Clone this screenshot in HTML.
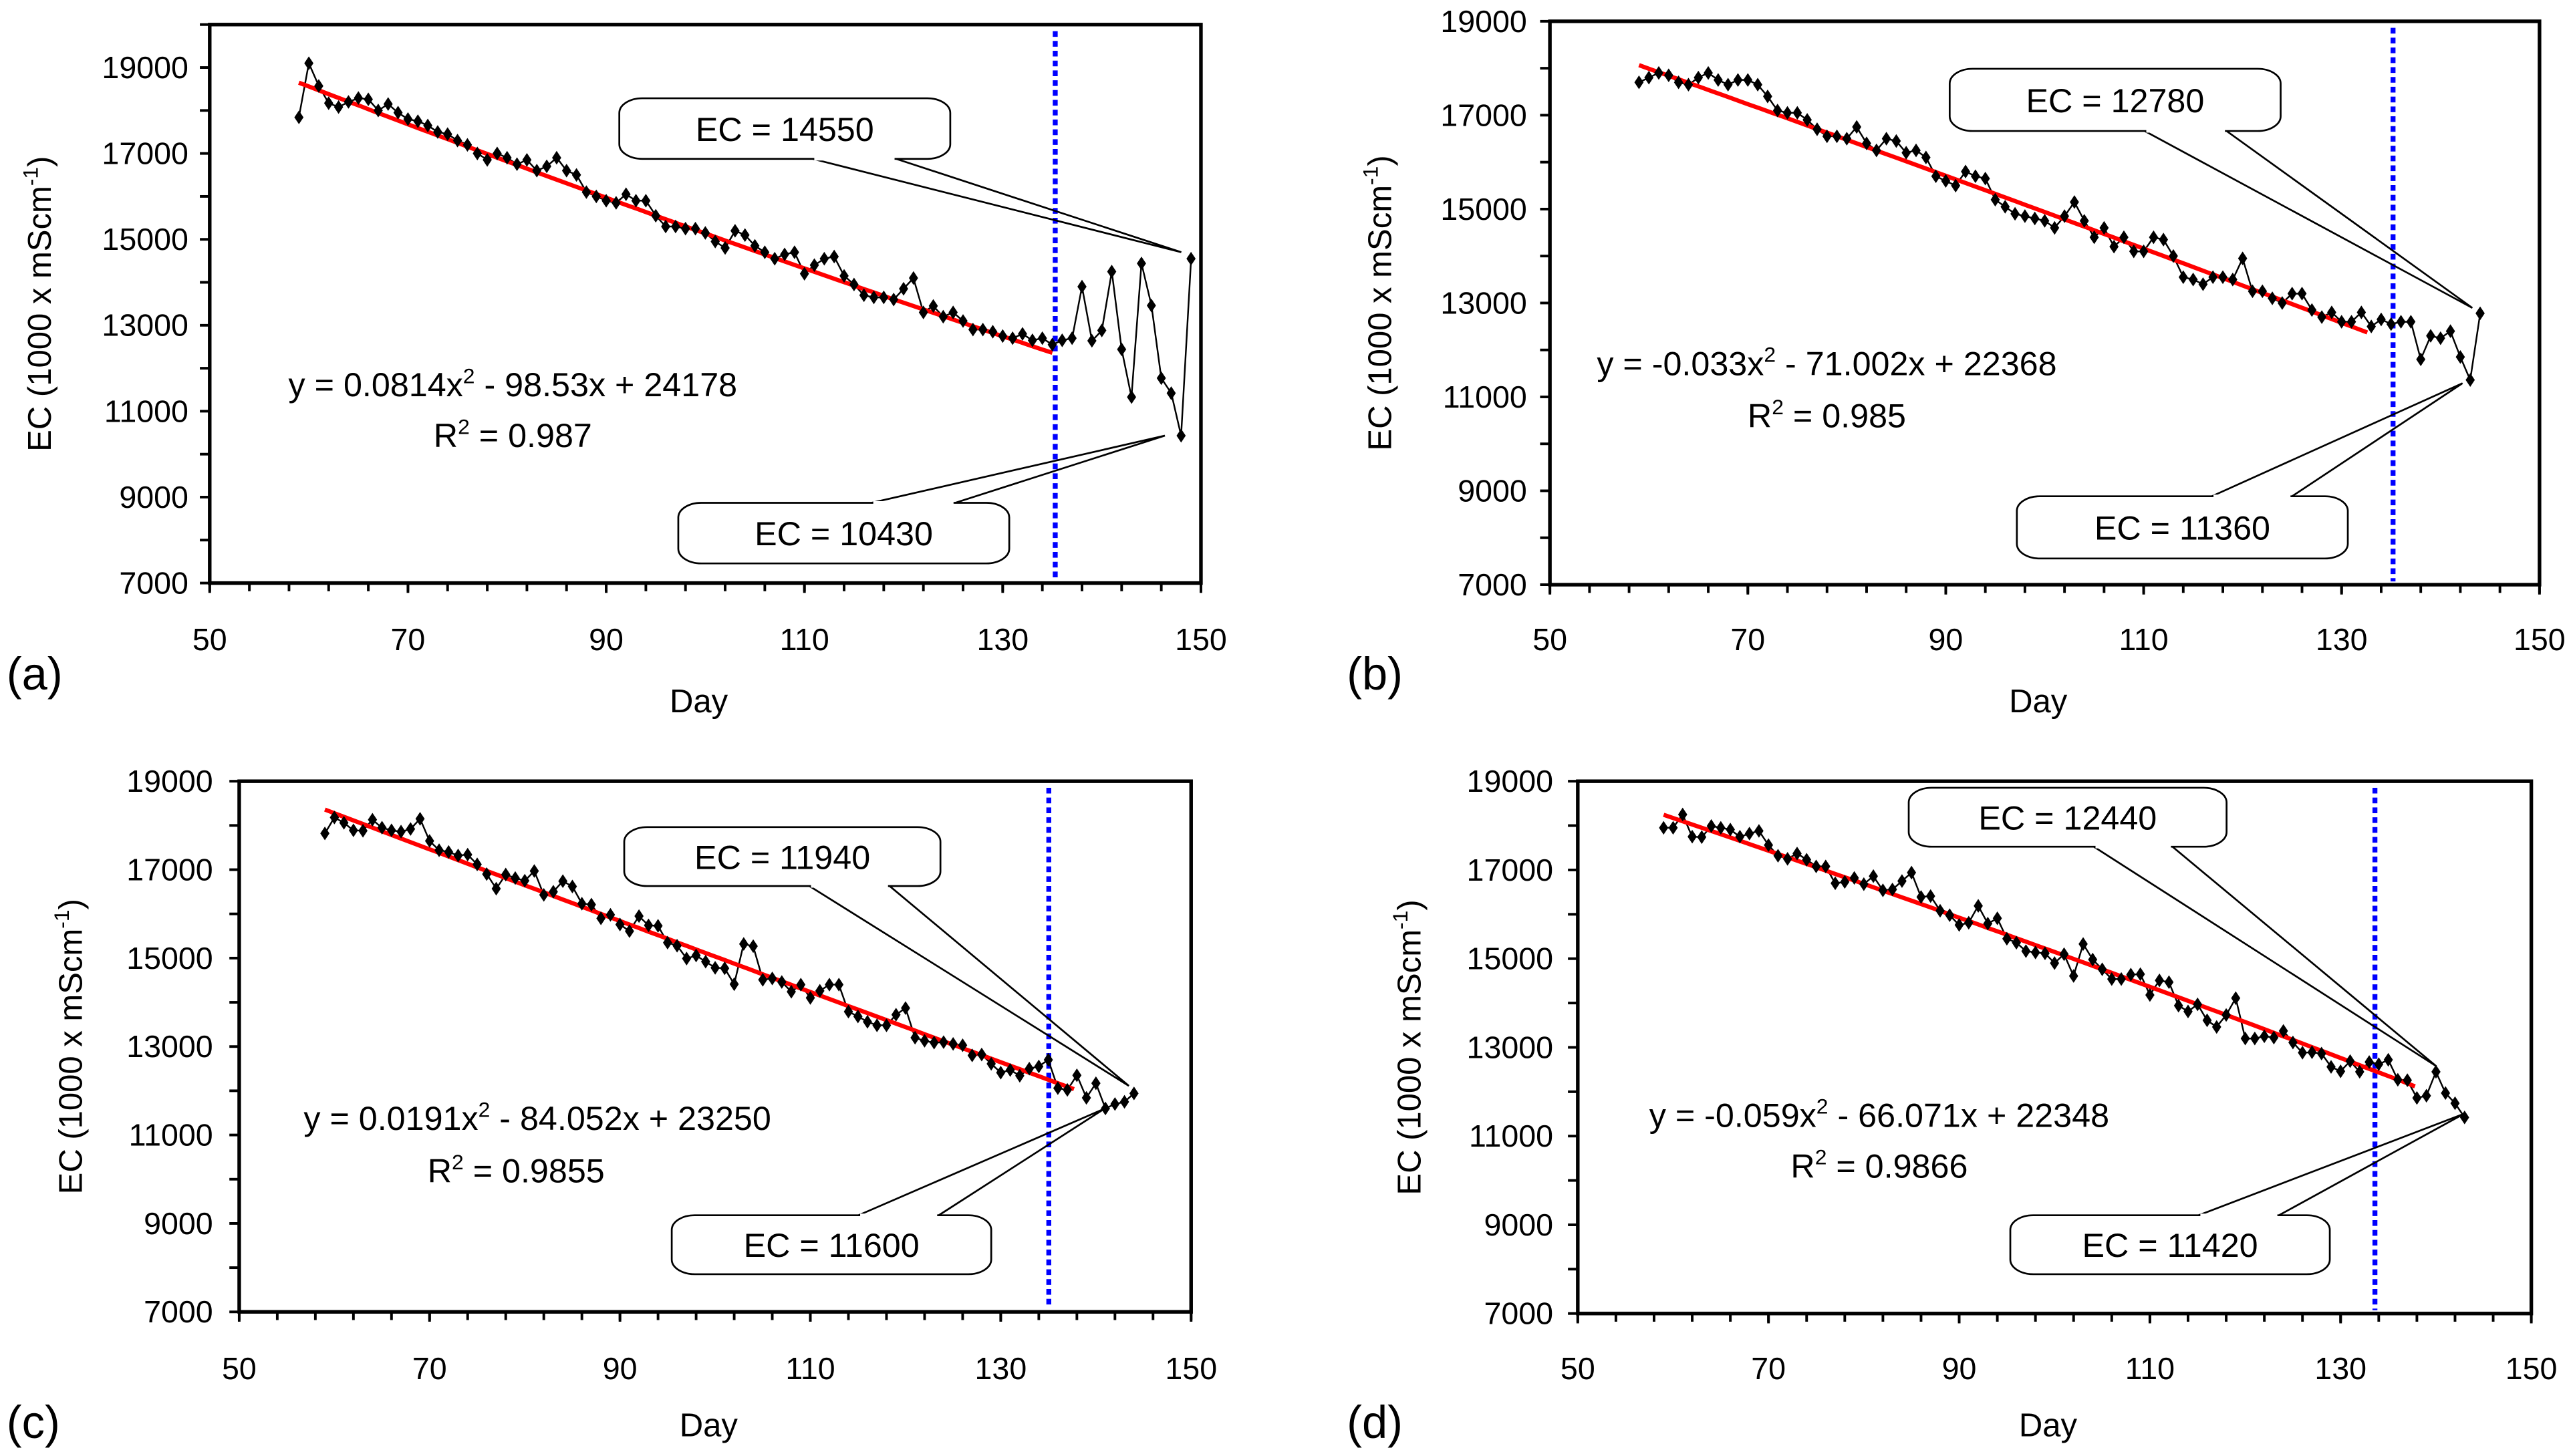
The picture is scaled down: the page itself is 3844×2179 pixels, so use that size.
<!DOCTYPE html>
<html><head><meta charset="utf-8"><style>
html,body{margin:0;padding:0;background:#fff}
svg{display:block}
text{font-family:"Liberation Sans",Arial,sans-serif;fill:#000}
</style></head><body>
<svg id="fig" xmlns="http://www.w3.org/2000/svg" width="3844" height="2179" viewBox="0 0 1568 889" preserveAspectRatio="none">
<rect width="1568" height="889" fill="#fff"/>
</svg>
<script>
// ---- data ----
const daysA = [59,60,61,62,63,64,65,66,67,68,69,70,71,72,73,74,75,76,77,78,79,80,81,82,83,84,85,86,87,88,89,90,91,92,93,94,95,96,97,98,99,100,101,102,103,104,105,106,107,108,109,110,111,112,113,114,115,116,117,118,119,120,121,122,123,124,125,126,127,128,129,130,131,132,133,134,135,136,137,138,139,140,141,142,143,144,145,146,147,148,149];
const ecA = [17840,19100,18570,18170,18080,18200,18290,18260,18000,18150,17950,17800,17750,17650,17500,17450,17300,17200,17000,16850,17000,16900,16750,16850,16600,16700,16900,16600,16500,16100,16000,15900,15850,16050,15900,15900,15550,15300,15300,15250,15250,15150,14950,14800,15200,15100,14850,14700,14550,14650,14700,14200,14400,14550,14600,14150,13950,13700,13650,13650,13600,13850,14100,13300,13450,13200,13300,13100,12900,12900,12850,12750,12700,12800,12650,12700,12550,12650,12700,13900,12640,12880,14250,12440,11330,14440,13460,11770,11420,10430,14550];
const daysB = [59,60,61,62,63,64,65,66,67,68,69,70,71,72,73,74,75,76,77,78,79,80,81,82,83,84,85,86,87,88,89,90,91,92,93,94,95,96,97,98,99,100,101,102,103,104,105,106,107,108,109,110,111,112,113,114,115,116,117,118,119,120,121,122,123,124,125,126,127,128,129,130,131,132,133,134,135,136,137,138,139,140,141,142,143,144];
const ecB = [17700,17800,17900,17850,17700,17650,17800,17900,17750,17650,17750,17750,17650,17400,17100,17050,17050,16900,16700,16550,16550,16500,16750,16400,16250,16500,16450,16200,16250,16100,15700,15600,15500,15800,15700,15650,15200,15050,14900,14850,14800,14750,14600,14850,15150,14750,14400,14600,14200,14400,14100,14100,14400,14350,14000,13550,13500,13400,13550,13550,13500,13950,13250,13250,13100,13000,13200,13200,12850,12700,12800,12600,12600,12800,12500,12650,12550,12600,12600,11800,12300,12250,12400,11850,11360,12780];
const daysC = [59,60,61,62,63,64,65,66,67,68,69,70,71,72,73,74,75,76,77,78,79,80,81,82,83,84,85,86,87,88,89,90,91,92,93,94,95,96,97,98,99,100,101,102,103,104,105,106,107,108,109,110,111,112,113,114,115,116,117,118,119,120,121,122,123,124,125,126,127,128,129,130,131,132,133,134,135,136,137,138,139,140,141,142,143,144];
const ecC = [17820,18180,18060,17890,17880,18130,17950,17890,17860,17920,18150,17650,17440,17400,17320,17340,17120,16900,16570,16890,16810,16750,16970,16430,16500,16740,16620,16230,16210,15900,15980,15760,15610,15950,15740,15730,15350,15280,14990,15060,14920,14780,14770,14410,15320,15270,14510,14540,14460,14240,14400,14100,14260,14400,14400,13790,13680,13560,13480,13480,13720,13870,13200,13130,13090,13100,13060,13030,12800,12820,12610,12410,12470,12340,12500,12550,12700,12060,12020,12350,11840,12170,11600,11700,11750,11940];
const daysD = [59,60,61,62,63,64,65,66,67,68,69,70,71,72,73,74,75,76,77,78,79,80,81,82,83,84,85,86,87,88,89,90,91,92,93,94,95,96,97,98,99,100,101,102,103,104,105,106,107,108,109,110,111,112,113,114,115,116,117,118,119,120,121,122,123,124,125,126,127,128,129,130,131,132,133,134,135,136,137,138,139,140,141,142,143];
const ecD = [17950,17950,18250,17750,17740,17990,17950,17910,17750,17820,17880,17560,17320,17250,17370,17230,17080,17080,16700,16730,16820,16680,16860,16540,16560,16750,16940,16390,16410,16080,15980,15760,15810,16190,15790,15910,15450,15360,15170,15140,15120,14900,15100,14610,15330,14980,14760,14540,14540,14640,14650,14180,14510,14470,13940,13810,13970,13610,13460,13730,14110,13200,13200,13250,13220,13370,13110,12880,12890,12860,12560,12460,12690,12450,12670,12620,12720,12270,12260,11860,11910,12450,11970,11740,11420];
const fitA = [0.0814,-98.53,24178], fitB = [-0.033,-71.002,22368], fitC = [0.0191,-84.052,23250], fitD = [-0.059,-66.071,22348];
const fitRangeA = [59,135], fitRangeB = [59,132.6], fitRangeC = [59,137.7], fitRangeD = [59,137.8];
const cutDay = [135.3,135.2,135.05,133.6];
const yTicks = [7000,9000,11000,13000,15000,17000,19000];
const xTicks = [50,70,90,110,130,150];

const NS="http://www.w3.org/2000/svg";
const svg=document.getElementById('fig');
function mk(tag,attrs,parent){const e=document.createElementNS(NS,tag);for(const k in attrs)e.setAttribute(k,attrs[k]);(parent||svg).appendChild(e);return e;}

const panels=[
 {key:'a',days:daysA,ec:ecA,fit:fitA,fr:fitRangeA,cut:cutDay[0],x0:128,x1:733,yTopPx:15,yBotPx:356,yMax:20000,
  tickRight:115,ylabX:31,xlabY:397,dayY:435,tagX:4,tagY:421,
  eq:['y = 0.0814x','2',' - 98.53x + 24178'],eqX:313,eqY:242,rX:313,rY:273,r:'0.987',
  boxes:[[378,60,580,97,'EC = 14550',496,547,'b',721,154],[414,307,616,344,'EC = 10430',532,583,'t',711,266]]},
 {key:'b',days:daysB,ec:ecB,fit:fitB,fr:fitRangeB,cut:cutDay[1],x0:946,x1:1550,yTopPx:13,yBotPx:357,yMax:19000,
  tickRight:932,ylabX:849,xlabY:397,dayY:435,tagX:822,tagY:421,
  eq:['y = -0.033x','2',' - 71.002x + 22368'],eqX:1115,eqY:229,rX:1115,rY:261,r:'0.985',
  boxes:[[1190,42,1392,80,'EC = 12780',1309,1359,'b',1509,188],[1231,303,1433,341,'EC = 11360',1350,1399,'t',1503,234]]},
 {key:'c',days:daysC,ec:ecC,fit:fitC,fr:fitRangeC,cut:cutDay[2],x0:146,x1:727,yTopPx:477,yBotPx:801,yMax:19000,
  tickRight:130,ylabX:50,xlabY:842,dayY:877,tagX:4,tagY:878,
  eq:['y = 0.0191x','2',' - 84.052x + 23250'],eqX:328,eqY:690,rX:315,rY:722,r:'0.9855',
  boxes:[[381,505,574,541,'EC = 11940',494,543,'b',689,663],[410,742,605,778,'EC = 11600',524,573,'t',674,677]]},
 {key:'d',days:daysD,ec:ecD,fit:fitD,fr:fitRangeD,cut:cutDay[3],x0:963,x1:1545,yTopPx:477,yBotPx:802,yMax:19000,
  tickRight:948,ylabX:867,xlabY:842,dayY:877,tagX:822,tagY:878,
  eq:['y = -0.059x','2',' - 66.071x + 22348'],eqX:1147,eqY:688,rX:1147,rY:719,r:'0.9866',
  boxes:[[1165,481,1359,517,'EC = 12440',1278,1326,'b',1487,651],[1227,742,1422,778,'EC = 11420',1342,1391,'t',1504,680]]}
];

panels.forEach(p=>{
 const g=mk('g',{});
 
 
 const X=d=>p.x0+(d-50)/100*(p.x1-p.x0);
 const Y=v=>p.yBotPx-(v-7000)/(p.yMax-7000)*(p.yBotPx-p.yTopPx);
 const fr=mk('rect',{x:p.x0,y:p.yTopPx,width:p.x1-p.x0,height:p.yBotPx-p.yTopPx,fill:'none',stroke:'#000','stroke-width':2.2},g);
 
 
 for(let v=7000;v<=p.yMax;v+=1000){mk('line',{x1:p.x0-6,x2:p.x0,y1:Y(v),y2:Y(v),stroke:'#000','stroke-width':1.6},g);}
 yTicks.forEach(v=>{const t=mk('text',{x:p.tickRight,y:Y(v)+6.5,'text-anchor':'end','font-size':19},g);t.textContent=v;
  
  });
 for(let d=50;d<=150;d+=4){mk('line',{x1:X(d),x2:X(d),y1:p.yBotPx,y2:p.yBotPx+5,stroke:'#000','stroke-width':1.6},g);}
 xTicks.forEach(d=>{mk('line',{x1:X(d),x2:X(d),y1:p.yBotPx,y2:p.yBotPx+6,stroke:'#000','stroke-width':1.6},g);
  const t=mk('text',{x:X(d),y:p.xlabY,'text-anchor':'middle','font-size':19},g);t.textContent=d;
  
  });
 const yc=(p.yTopPx+p.yBotPx)/2;
 const yl=mk('text',{x:p.ylabX,y:yc,'text-anchor':'middle','font-size':20,transform:`rotate(-90 ${p.ylabX} ${yc})`},g);
 yl.innerHTML='EC (1000 x mScm<tspan dy="-8" font-size="13">-1</tspan><tspan dy="8">)</tspan>';
 
 
 const xl=mk('text',{x:(p.x0+p.x1)/2-4,y:p.dayY,'text-anchor':'middle','font-size':20},g);xl.textContent='Day';
 
 
 const tg=mk('text',{x:p.tagX,y:p.tagY,'font-size':28},g);tg.textContent='('+p.key+')';
 
 
 const cl=mk('line',{x1:X(p.cut),x2:X(p.cut),y1:p.yTopPx+4,y2:p.yBotPx-2,stroke:'#0000ff','stroke-width':3,'stroke-dasharray':'3.5 2.5'},g);
 
 
 const pts=p.days.map((d,i)=>X(d).toFixed(1)+','+Y(p.ec[i]).toFixed(1)).join(' ');
 const sl=mk('polyline',{points:pts,fill:'none',stroke:'#000','stroke-width':1},g);
 
 
 const fp=[];for(let d=p.fr[0];d<=p.fr[1]+0.001;d+=(p.fr[1]-p.fr[0])/60){const v=p.fit[0]*d*d+p.fit[1]*d+p.fit[2];fp.push(X(d).toFixed(1)+','+Y(v).toFixed(1));}
 const fl=mk('polyline',{points:fp.join(' '),fill:'none',stroke:'#ff0000','stroke-width':2.6},g);
 
 
 p.days.forEach((d,i)=>{const x=X(d),y=Y(p.ec[i]);
  const m=mk('polygon',{points:`${x},${y-4.2} ${x+2.8},${y} ${x},${y+4.2} ${x-2.8},${y}`,fill:'#000'},g);
  
  });
 const eq=mk('text',{x:p.eqX,y:p.eqY,'text-anchor':'middle','font-size':20.5},g);
 eq.innerHTML=`${p.eq[0]}<tspan dy="-8" font-size="13">${p.eq[1]}</tspan><tspan dy="8">${p.eq[2]}</tspan>`;
 
 
 const rr=mk('text',{x:p.rX,y:p.rY,'text-anchor':'middle','font-size':20.5},g);
 rr.innerHTML=`R<tspan dy="-8" font-size="13">2</tspan><tspan dy="8"> = ${p.r}</tspan>`;
 
 
 p.boxes.forEach(b=>{const [l,t,r,bt,label,pa,pb,side,ax,ay]=b;
  const cg=mk('g',{},g);
  
  
  const ey=side==='b'?bt:t;
  mk('rect',{x:l,y:t,width:r-l,height:bt-t,rx:14,ry:9,fill:'#fff',stroke:'#000','stroke-width':1.1},cg);
  mk('polyline',{points:`${pa},${ey} ${ax},${ay} ${pb},${ey}`,fill:'none',stroke:'#000','stroke-width':1.1},cg);
  mk('line',{x1:pa+1,x2:pb-1,y1:ey,y2:ey,stroke:'#fff','stroke-width':2},cg);
  const tx=mk('text',{x:(l+r)/2,y:(t+bt)/2+7.5,'text-anchor':'middle','font-size':20.5},cg);tx.textContent=label;
  
  
 });
});
</script>
</body></html>
